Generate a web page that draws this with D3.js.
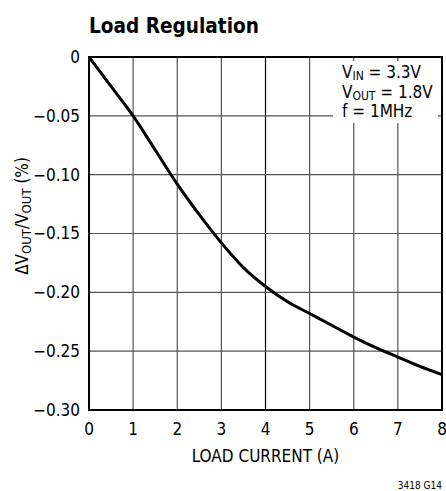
<!DOCTYPE html>
<html>
<head>
<meta charset="utf-8">
<script src="https://cdn.jsdelivr.net/npm/d3@7"></script>
<style>
  body { margin: 0; background: #fff; }
  svg { display: block; font-family: 'Liberation Sans Narrow', 'DejaVu Sans Condensed', 'Roboto Condensed', sans-serif; }
</style>
</head>
<body>
<div id="chart"></div>
<script>
// load current (A) and the regulation (%)
var loadCurrent = [0, 0.5, 1, 1.5, 2, 2.5, 3, 3.5, 4, 4.5, 5, 5.5, 6, 6.5, 7, 7.5, 8];
var deltaVout = [0, -0.025, -0.05, -0.079, -0.108, -0.134, -0.158, -0.179, -0.195, -0.208, -0.218, -0.228, -0.238, -0.247, -0.255, -0.263, -0.270];

var xTicks = [0, 1, 2, 3, 4, 5, 6, 7, 8];
var yTicks = [0, -0.05, -0.10, -0.15, -0.20, -0.25, -0.30];
var yTickLabels = ["0", "\u22120.05", "\u22120.10", "\u22120.15", "\u22120.20", "\u22120.25", "\u22120.30"];

var margin = {top: 57, right: 4, bottom: 81, left: 89},
    width = 446 - margin.left - margin.right,
    height = 491 - margin.top - margin.bottom;

var svg = d3.select("#chart").append("svg")
    .attr("width", 446)
    .attr("height", 491);

svg.append("text")
    .attr("x", 89)
    .attr("y", 33)
    .attr("font-size", "22px")
    .attr("font-weight", "bold")
    .attr("fill", "#000")
    .attr("textLength", 170)
    .attr("lengthAdjust", "spacingAndGlyphs")
    .text("Load Regulation");

var g = svg.append("g")
    .attr("transform", "translate(" + margin.left + "," + margin.top + ")");

var x = d3.scaleLinear().domain([0, 8]).range([0, width]),
    y = d3.scaleLinear().domain([-0.30, 0]).range([height, 0]);

// grid
g.selectAll(".vgrid")
    .data(xTicks.slice(1, -1))
    .enter().append("line")
    .attr("class", "vgrid")
    .attr("x1", function(d) { return x(d); })
    .attr("x2", function(d) { return x(d); })
    .attr("y1", 0)
    .attr("y2", height)
    .attr("stroke", function(d) { return d == 4 ? "#000" : "#555"; })
    .attr("stroke-width", 1.2);

g.selectAll(".hgrid")
    .data(yTicks.slice(1, -1))
    .enter().append("line")
    .attr("class", "hgrid")
    .attr("x1", 0)
    .attr("x2", width)
    .attr("y1", function(d) { return y(d); })
    .attr("y2", function(d) { return y(d); })
    .attr("stroke", "#555")
    .attr("stroke-width", 1.2);

// white box behind the conditions text
g.append("rect")
    .attr("x", 244)
    .attr("y", 4)
    .attr("width", 105)
    .attr("height", 62)
    .attr("fill", "#fff");

g.append("rect")
    .attr("width", width)
    .attr("height", height)
    .attr("fill", "none")
    .attr("stroke", "#000")
    .attr("stroke-width", 2);

var line = d3.line()
    .x(function(d, i) { return x(loadCurrent[i]); })
    .y(function(d) { return y(d); })
    .curve(d3.curveMonotoneX);

g.append("path")
    .datum(deltaVout)
    .attr("d", line)
    .attr("fill", "none")
    .attr("stroke", "#000")
    .attr("stroke-width", 3);

// tick labels
g.selectAll(".xlabel")
    .data(xTicks)
    .enter().append("text")
    .attr("class", "xlabel")
    .attr("x", function(d) { return x(d); })
    .attr("y", height + 25)
    .attr("text-anchor", "middle")
    .attr("font-size", "17px")
    .text(function(d) { return d; });

g.selectAll(".ylabel")
    .data(yTicks)
    .enter().append("text")
    .attr("class", "ylabel")
    .attr("x", -9)
    .attr("y", function(d) { return y(d); })
    .attr("dy", "0.35em")
    .attr("text-anchor", "end")
    .attr("font-size", "17px")
    .text(function(d, i) { return yTickLabels[i]; });

g.append("text")
    .attr("x", width / 2)
    .attr("y", height + 52)
    .attr("text-anchor", "middle")
    .attr("font-size", "17px")
    .text("LOAD CURRENT (A)");

// y axis title with subscripts
var yt = svg.append("text")
    .attr("transform", "translate(28,216)rotate(-90)")
    .attr("text-anchor", "middle")
    .attr("font-size", "17px");
yt.append("tspan").text("\u0394V");
yt.append("tspan").attr("font-size", "13px").attr("dy", 3).text("OUT");
yt.append("tspan").attr("dy", -3).text("/V");
yt.append("tspan").attr("font-size", "13px").attr("dy", 3).text("OUT");
yt.append("tspan").attr("dy", -3).text(" (%)");

// conditions
var cond = [
  {main: "V", sub: "IN", rest: " = 3.3V"},
  {main: "V", sub: "OUT", rest: " = 1.8V"},
  {main: "f = 1MHz", sub: "", rest: ""}
];
cond.forEach(function(c, i) {
  var t = svg.append("text")
      .attr("x", 342)
      .attr("y", 78 + i * 19.5)
      .attr("font-size", "17px");
  t.append("tspan").text(c.main);
  if (c.sub) {
    t.append("tspan").attr("font-size", "12px").attr("dy", 2).text(c.sub);
    t.append("tspan").attr("dy", -2).text(c.rest);
  }
});

svg.append("text")
    .attr("x", 442)
    .attr("y", 489)
    .attr("text-anchor", "end")
    .attr("font-size", "10px")
    .text("3418 G14");
</script>
</body>
</html>
